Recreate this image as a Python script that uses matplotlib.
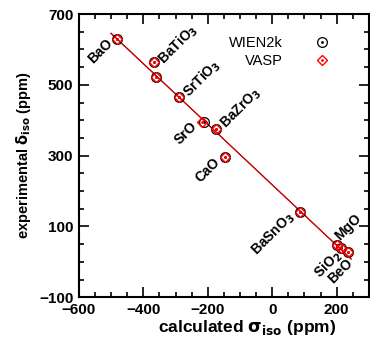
#
# 17O shifts: experimental delta vs calculated sigma
#
import numpy as np
import matplotlib.pyplot as plt

plt.rcParams['font.family'] = ['Liberation Sans', 'DejaVu Sans']

# data
names = ['BaO', r'BaTiO$_\mathbf{3}$', '', r'SrTiO$_\mathbf{3}$', 'SrO', r'BaZrO$_\mathbf{3}$', 'CaO',
         r'BaSnO$_\mathbf{3}$', r'SiO$_\mathbf{2}$', 'MgO', 'BeO']
exp_shift = [629, 565, 523, 465, 394, 375, 295, 142, 48, 40, 27]
wien_sigma = [-481, -367, -361, -288, -211, -174, -147, 86, 201, 214, 235]
vasp_sigma = [-481, -367, -361, -288, -217, -174, -147, 86, 201, 214, 235]

# label placement: offset in points, horizontal alignment
label_pos = [(-5, -1, 'right'), (5, 0, 'left'), None, (5, 2, 'left'),
             (-5, -1, 'right'), (5, 2, 'left'), (-5, -2, 'right'),
             (-5, -2, 'right'), (2, -6, 'right'), (-3, 7, 'left'), (2, -6, 'right')]

fig = plt.figure(figsize=(3.7, 3.44), dpi=100)
ax = fig.add_axes([0.213, 0.136, 0.784, 0.823])

# linear fits drawn over the data range
xfit = np.array([-500, 245])
for sig, col in [(wien_sigma, 'black'), (vasp_sigma, 'red')]:
    p = np.polyfit(sig, exp_shift, 1)
    ax.plot(xfit, np.polyval(p, xfit), color=col, lw=0.8, zorder=1)

# points: open marker with small dot in the middle
c1, = ax.plot(wien_sigma, exp_shift, 'o', ms=7, mfc='none', mec='black', mew=0.9, zorder=3)
c2, = ax.plot(wien_sigma, exp_shift, '.', ms=2, color='black', zorder=3)
d1, = ax.plot(vasp_sigma, exp_shift, 'D', ms=5.5, mfc='none', mec='red', mew=1.0, zorder=4)
d2, = ax.plot(vasp_sigma, exp_shift, '.', ms=2, color='red', zorder=4)

for n, x, y, pos in zip(names, vasp_sigma, exp_shift, label_pos):
    if pos is None:
        continue
    dx, dy, ha = pos
    ax.annotate(n, (x, y), xytext=(dx, dy), textcoords='offset points',
                rotation=45, rotation_mode='anchor', ha=ha, va='center',
                fontsize=10, fontweight='bold')

ax.legend([(c1, c2), (d1, d2)], ['WIEN2k', 'VASP'], loc='upper right',
          markerfirst=False, frameon=False, fontsize=10.5, handlelength=1.0,
          handletextpad=2.2, labelspacing=0.3, bbox_to_anchor=(0.91, 0.97))

ax.set_xlim(-600, 300)
ax.set_ylim(-100, 700)
ax.set_xticks([-600, -400, -200, 0, 200])
ax.set_yticks([-100, 100, 300, 500, 700])
ax.set_xticks(np.arange(-600, 301, 50), minor=True)
ax.set_yticks(np.arange(-100, 701, 50), minor=True)
ax.set_xticklabels(['\u2212600', '\u2212400', '\u2212200', '0', '200'], fontweight='bold')
ax.set_yticklabels(['\u2212100', '100', '300', '500', '700'], fontweight='bold')
ax.tick_params(which='both', direction='in', top=True, right=True, labelsize=11, width=1.2)
ax.tick_params(which='major', length=7, pad=4)
ax.tick_params(which='minor', length=3.5)
for s in ax.spines.values():
    s.set_linewidth(1.5)

ax.set_xlabel(r'calculated $\mathbf{\sigma_{iso}}$ (ppm)', fontsize=12.5, fontweight='bold')
ax.xaxis.set_label_coords(0.58, -0.075)
ax.set_ylabel(r'experimental $\mathbf{\delta_{iso}}$ (ppm)', fontsize=10.5, fontweight='bold', labelpad=4)

fig.savefig('out.png', dpi=100)
